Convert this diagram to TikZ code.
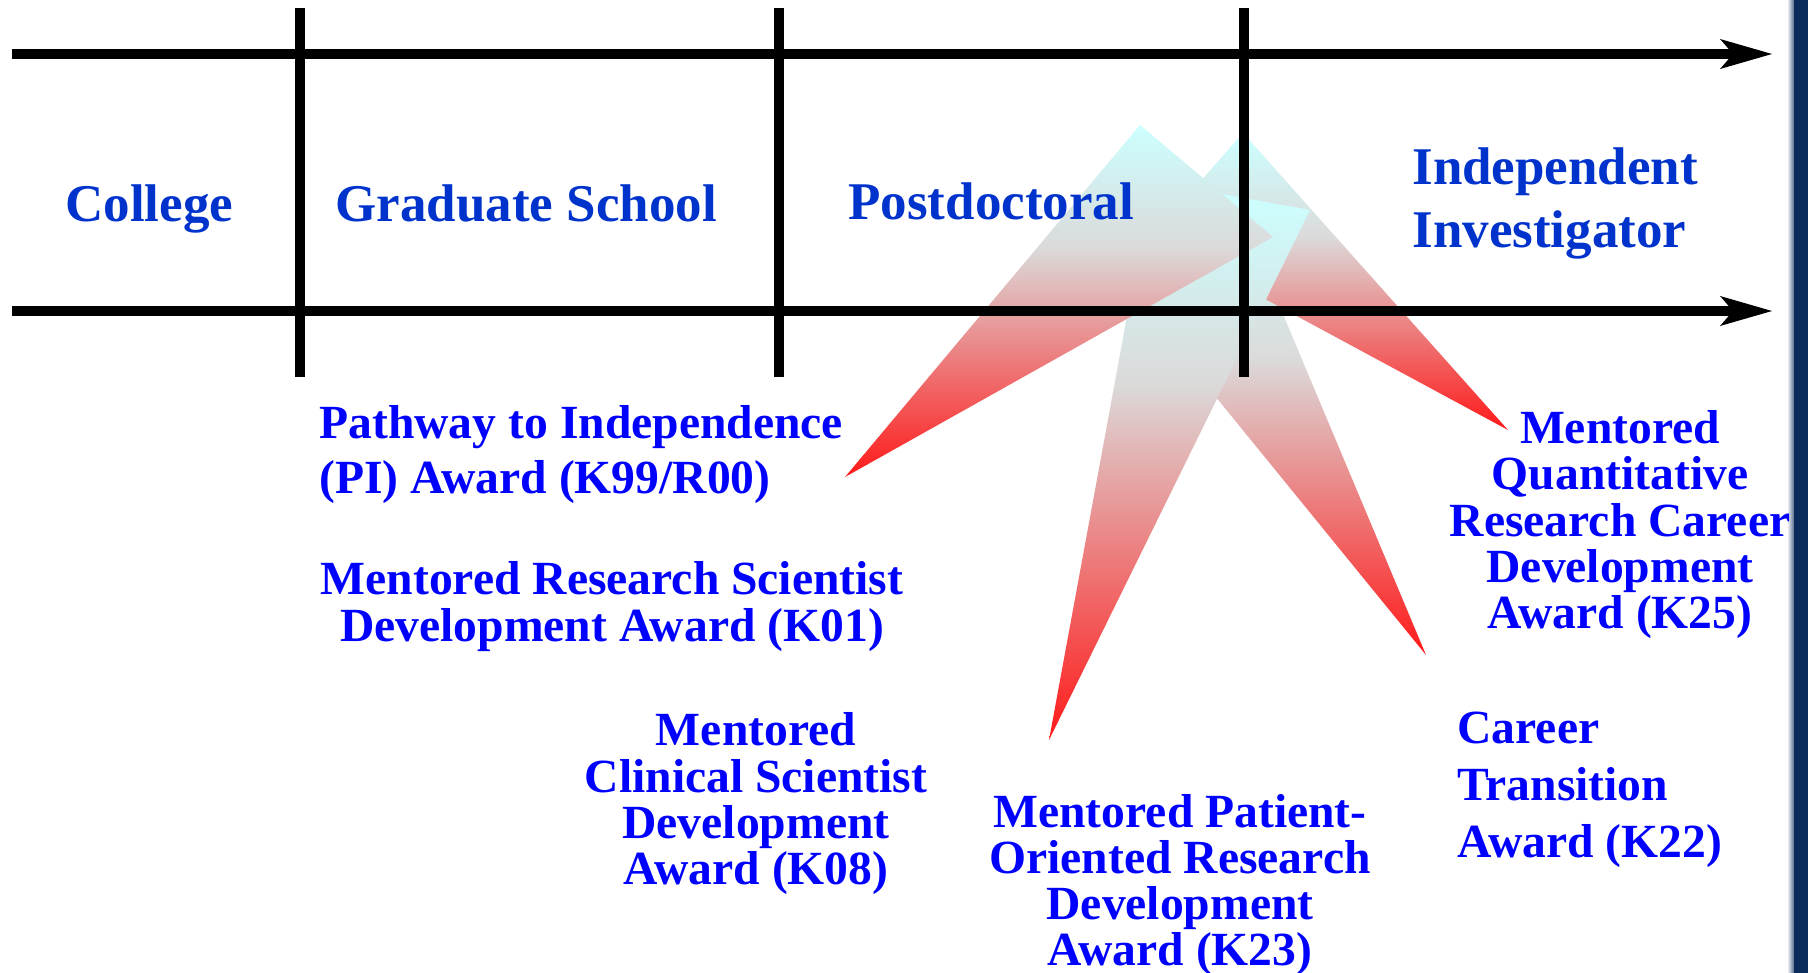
\documentclass[tikz,border=0pt]{standalone}
\usepackage{fontspec}
\setmainfont{Liberation Serif}
\usetikzlibrary{arrows.meta}
\definecolor{topblue}{RGB}{0,51,204}
\definecolor{lowblue}{RGB}{0,0,255}
\definecolor{navybar}{RGB}{10,44,92}
\pgfdeclareverticalshading{kgrad}{100bp}{rgb(0bp)=(1,0.1,0.1); rgb(25bp)=(1,0.1,0.1); rgb(57.5bp)=(0.86,0.855,0.855); rgb(75bp)=(0.8,1,1); rgb(100bp)=(0.8,1,1)}
\begin{document}
\begin{tikzpicture}[x=0.5pt,y=-0.5pt,
  toplbl/.style={inner sep=0pt, text=topblue, font=\fontsize{26.5pt}{30pt}\selectfont\bfseries},
  lowlbl/.style={inner sep=0pt, text=lowblue, font=\fontsize{23.8pt}{28pt}\selectfont\bfseries},
  axisline/.style={line width=5.2pt, -{Stealth[length=26pt,width=15pt,inset=6.5pt,line width=0pt]}},
  divider/.style={line width=5.2pt},
  kshape/.style={shading=kgrad}]
\useasboundingbox (0,0) rectangle (1808,973);
\fill[white] (0,0) rectangle (1808,973);
% right bar
\shade[left color=white, right color=navybar!70] (1787,0) rectangle (1794,973);
\fill[navybar] (1794,0) rectangle (1808,973);
% gradient arrows
\shade[kshape] (1426,655) -- (1145,310) -- (1200,205) -- (1235,200) -- cycle;
\shade[kshape] (1243,133) -- (1508,430) -- (1267,300) -- (1177,208) -- cycle;
\shade[kshape] (1049,740) -- (1310,210) -- (1200,190) -- (1130,300) -- cycle;
\shade[kshape] (1140,125) -- (1273,237) -- (845,477) -- cycle;
% axes
\coordinate (a1s) at (12,54);  \coordinate (a1e) at (1772,54);
\coordinate (a2s) at (12,311); \coordinate (a2e) at (1772,311);
\draw[axisline] (a1s) -- (a1e);
\draw[axisline] (a2s) -- (a2e);
\coordinate (d1t) at (300,8);  \coordinate (d1b) at (300,377);
\coordinate (d2t) at (779,8);  \coordinate (d2b) at (779,377);
\coordinate (d3t) at (1244,8); \coordinate (d3b) at (1244,377);
\draw[divider] (d1t) -- (d1b);
\draw[divider] (d2t) -- (d2b);
\draw[divider] (d3t) -- (d3b);
% stage labels
\node[toplbl, anchor=base west] (college) at (65,221) {College};
\node[toplbl, anchor=base west] (grad) at (335,221) {Graduate School};
\node[toplbl, anchor=base west] (postdoc) at (848,220) {Postdoctoral};
\node[toplbl, anchor=base west] (indepA) at (1412,185) {Independent};
\node[toplbl, anchor=base west] (indepB) at (1412,248) {Investigator};
% award labels
\node[lowlbl, anchor=base west] (piA) at (319,438) {Pathway to Independence};
\node[lowlbl, anchor=base west] (piB) at (319,493) {(PI) Award (K99/R00)};
\node[lowlbl, anchor=base] (kaA) at (612,594) {Mentored Research Scientist};
\node[lowlbl, anchor=base] (kaB) at (612,641) {Development Award (K01)};
\node[lowlbl, anchor=base] (kbA) at (756,745) {Mentored};
\node[lowlbl, anchor=base] (kbB) at (756,792) {Clinical Scientist};
\node[lowlbl, anchor=base] (kbC) at (756,838) {Development};
\node[lowlbl, anchor=base] (kbD) at (756,884) {Award (K08)};
\node[lowlbl, anchor=base] (kcA) at (1180,827) {Mentored Patient-};
\node[lowlbl, anchor=base] (kcB) at (1180,873) {Oriented Research};
\node[lowlbl, anchor=base] (kcC) at (1180,919) {Development};
\node[lowlbl, anchor=base] (kcD) at (1180,965) {Award (K23)};
\node[lowlbl, anchor=base] (kdA) at (1620,443) {Mentored};
\node[lowlbl, anchor=base] (kdB) at (1620,489) {Quantitative};
\node[lowlbl, anchor=base] (kdC) at (1620,536) {Research Career};
\node[lowlbl, anchor=base] (kdD) at (1620,582) {Development};
\node[lowlbl, anchor=base] (kdE) at (1620,628) {Award (K25)};
\node[lowlbl, anchor=base west] (keA) at (1457,743) {Career};
\node[lowlbl, anchor=base west] (keB) at (1457,800) {Transition};
\node[lowlbl, anchor=base west] (keC) at (1457,857) {Award (K22)};
\end{tikzpicture}
\end{document}
